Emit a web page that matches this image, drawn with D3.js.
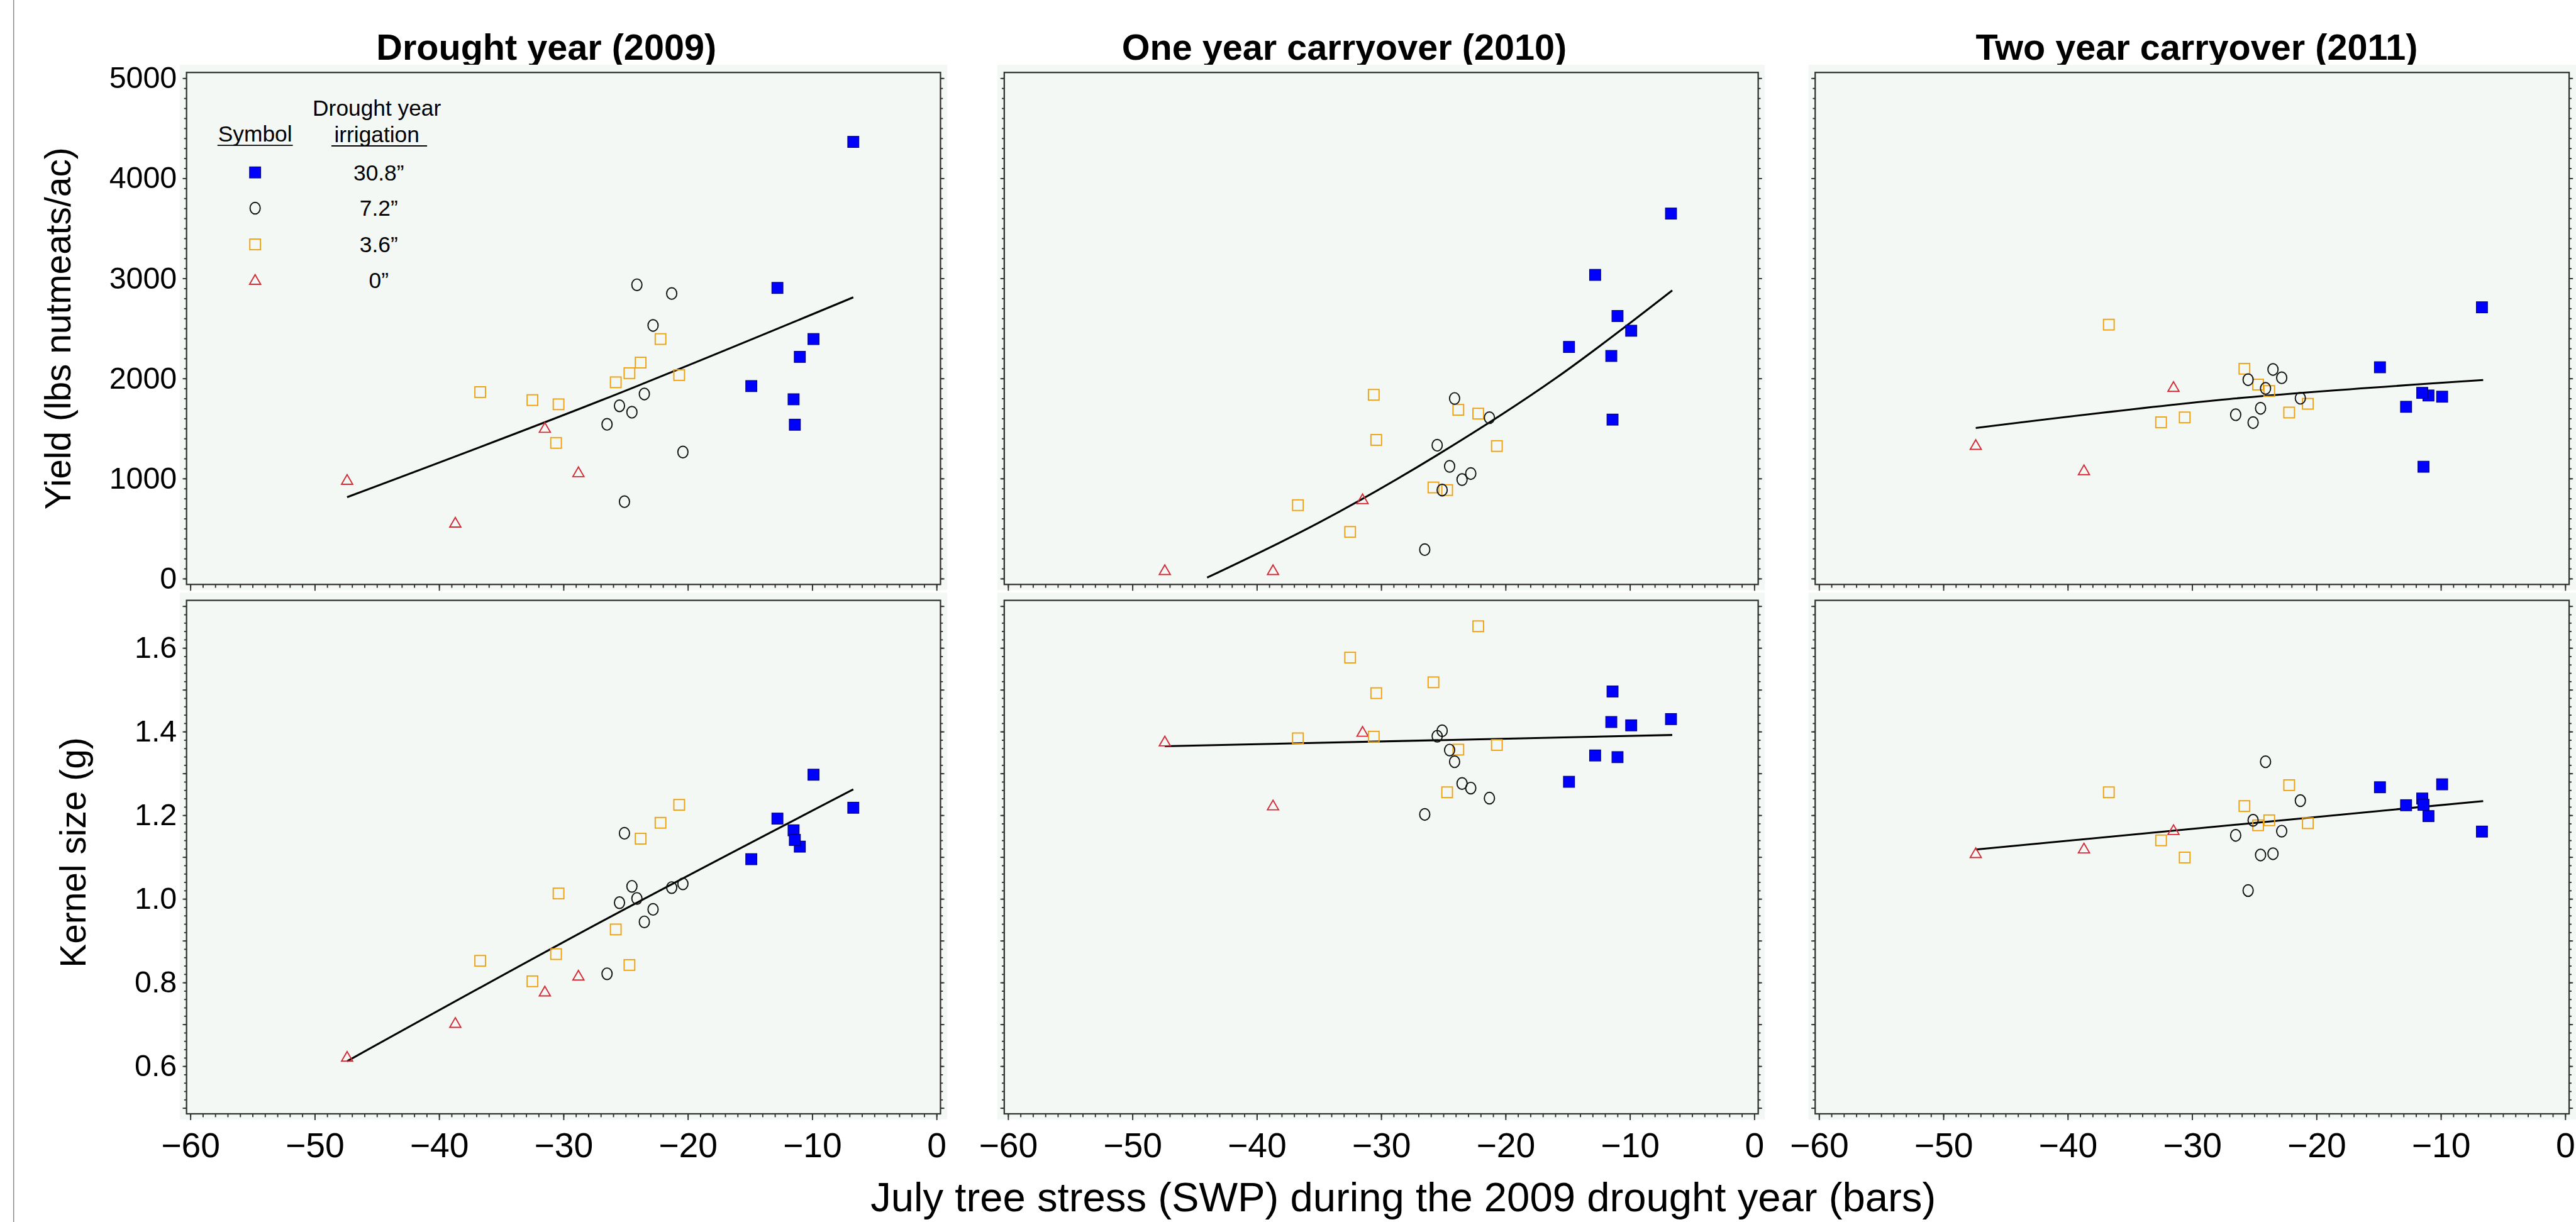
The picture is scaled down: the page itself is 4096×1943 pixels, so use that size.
<!DOCTYPE html>
<html>
<head>
<meta charset="utf-8">
<script src="https://cdn.jsdelivr.net/npm/d3@7"></script>
<style>
  html, body { margin: 0; padding: 0; background: #ffffff; }
  svg { display: block; }
</style>
</head>
<body>
<svg id="chart"></svg>
<script>
// ---- data ----
const years = ["2009", "2010", "2011"];
const panelTitles = ["Drought year (2009)", "One year carryover (2010)", "Two year carryover (2011)"];
const legendLabels = ["30.8\u201d", "7.2\u201d", "3.6\u201d", "0\u201d"];

// July SWP (bars) of each tree, by drought-year irrigation group
const xBlue = [-6.7, -12.8, -9.9, -11.0, -14.9, -11.5, -11.4];
const xCircle = [-24.1, -21.3, -22.8, -23.5, -25.5, -24.5, -26.5, -20.4, -25.1];
const xOrange = [-36.7, -32.5, -30.4, -30.6, -25.8, -24.7, -23.8, -22.2, -20.7];
const xTri = [-47.4, -38.7, -31.5, -28.8];

// yield (lbs nutmeats/ac), one row per year
const blueYield = [
  [4364, 2905, 2394, 2216, 1924, 1792, 1538],
  [3648, 3035, 2477, 2624, 2315, 2225, 1589],
  [2711, 1717, 1818, 1830, 2112, 1856, 1118]
];
const circleYield = [
  [2936, 2849, 2530, 1845, 1727, 1663, 1542, 1265, 769],
  [1800, 1608, 1050, 990, 1333, 1122, 290, null, 885],
  [1901, 1803, 2007, 2090, 1988, 1702, 1638, null, 1559]
];
const orangeYield = [
  [1864, 1784, 1742, 1356, 1962, 2053, 2159, 2394, 2034],
  [734, 467, 1386, 1837, 911, 885, 1687, 1649, 1325],
  [2538, 1562, null, 1611, 2097, 1939, 1875, 1660, 1747]
];
const triYield = [
  [985, 557, 1504, 1061],
  [83, 83, 791, null],
  [1333, 1081, 1913, null]
];

// kernel size (g), one row per year
const blueKernel = [
  [1.218, 1.192, 1.297, 1.125, 1.095, 1.164, 1.141],
  [1.430, 1.343, 1.415, 1.339, 1.280, 1.423, 1.496],
  [1.161, 1.224, 1.274, 1.198, 1.267, 1.240, 1.225]
];
const circleKernel = [
  [1.001, 1.027, 0.975, 0.945, 0.991, 1.030, 0.821, 1.036, 1.157],
  [1.328, 1.241, 1.265, 1.276, 1.389, 1.356, 1.202, null, 1.402],
  [1.328, 1.235, 1.162, 1.108, 1.020, 1.105, 1.152, null, 1.188]
];
const orangeKernel = [
  [0.852, 0.803, 1.013, 0.868, 0.927, 0.842, 1.144, 1.182, 1.225],
  [1.384, 1.577, 1.492, 1.388, 1.518, 1.255, 1.357, 1.652, 1.368],
  [1.255, 1.140, null, 1.099, 1.222, 1.176, 1.188, 1.272, 1.181]
];
const triKernel = [
  [0.622, 0.703, 0.778, 0.816],
  [1.376, 1.223, 1.399, null],
  [1.109, 1.120, 1.164, null]
];

// fitted curves, points
const yieldFit = [
  [[-47.4, 814], [-27, 1780], [-6.7, 2811]],
  [[-44, 10], [-35, 560], [-25.3, 1250], [-16, 2000], [-6.6, 2880]],
  [[-47.4, 1506], [-27, 1795], [-6.6, 1984]]
];
const kernelFit = [
  [[-47.4, 0.612], [-27, 0.945], [-6.7, 1.262]],
  [[-47.4, 1.365], [-6.6, 1.392]],
  [[-47.4, 1.118], [-6.6, 1.234]]
];

// axis ticks
const xLabels = [-60, -50, -40, -30, -20, -10, 0];
const xMinor = d3.range(-60, 1, 1);
const yieldLabels = [0, 1000, 2000, 3000, 4000, 5000];
const yieldMinor = d3.range(0, 5001, 100);
const kernelLabels = [0.6, 0.8, 1.0, 1.2, 1.4, 1.6];
const kernelMajor = [0.5, 0.6, 0.7, 0.8, 0.9, 1.0, 1.1, 1.2, 1.3, 1.4, 1.5, 1.6, 1.7];
const kernelMinor = d3.range(25, 86).map(i => i / 50);

// ---- layout (reference pixel space, scaled by the viewBox) ----
const W = 5333, H = 2530;
const colX = [386, 2079, 3758];
const panelW = 1561;
const rowY = [150, 1243];
const panelH = [1060, 1063];
const titleX = [1131, 2783, 4548];
const FONT = "'Liberation Sans', Arial, Helvetica, sans-serif";
const INK = "#333333";
const PALE = "#f4f8f4";

const svg = d3.select("#chart")
  .attr("width", 4096)
  .attr("height", 1943)
  .attr("viewBox", `0 0 ${W} ${H}`)
  .style("font-family", FONT);

svg.append("rect").attr("width", W).attr("height", H).attr("fill", "#ffffff");

// thin page rule on the left
svg.append("line")
  .attr("x1", 28).attr("x2", 28).attr("y1", 0).attr("y2", H)
  .attr("stroke", "#8a8a8a").attr("stroke-width", 2);

const groupStyle = {
  blue: { fill: "#0000ff", stroke: "#00007a", width: 1.5 },
  circle: { fill: "none", stroke: "#111111", width: 2.5 },
  orange: { fill: "none", stroke: "#eea211", width: 2.5 },
  tri: { fill: "none", stroke: "#d42a36", width: 2.5 }
};
const triPath = d3.symbol(d3.symbolTriangle, 230)();

function drawMark(g, kind, pts) {
  const st = groupStyle[kind];
  let sel;
  if (kind === "blue" || kind === "orange") {
    const s = kind === "blue" ? 23 : 22;
    sel = g.selectAll(null).data(pts).join("rect")
      .attr("x", d => d[0] - s / 2).attr("y", d => d[1] - s / 2)
      .attr("width", s).attr("height", s);
  } else if (kind === "circle") {
    sel = g.selectAll(null).data(pts).join("ellipse")
      .attr("cx", d => d[0]).attr("cy", d => d[1])
      .attr("rx", 10.5).attr("ry", 12);
  } else {
    sel = g.selectAll(null).data(pts).join("path")
      .attr("d", triPath)
      .attr("transform", d => `translate(${d[0]},${d[1] + 2})`);
  }
  sel.attr("fill", st.fill).attr("stroke", st.stroke).attr("stroke-width", st.width);
}

function styleAxis(g, size) {
  g.select(".domain").remove();
  g.selectAll(".tick line").attr("stroke", INK).attr("stroke-width", 2.5);
  g.selectAll(".tick text")
    .attr("fill", "#000000")
    .style("font-size", size + "px")
    .style("font-family", FONT);
}

const seriesX = { blue: xBlue, circle: xCircle, orange: xOrange, tri: xTri };
const yieldSeries = { tri: triYield, orange: orangeYield, circle: circleYield, blue: blueYield };
const kernelSeries = { tri: triKernel, orange: orangeKernel, circle: circleKernel, blue: blueKernel };
const drawOrder = ["tri", "orange", "circle", "blue"];

years.forEach((yr, c) => {
  const x0 = colX[c];
  const x = d3.scaleLinear().domain([-60, 0]).range([x0 + 8, x0 + panelW - 8]);

  // panel title
  svg.append("text")
    .attr("x", titleX[c]).attr("y", 124)
    .attr("text-anchor", "middle")
    .style("font-size", "75px").style("font-weight", "bold")
    .text(panelTitles[c]);

  [0, 1].forEach(r => {
    const y0 = rowY[r], h = panelH[r];
    const isYield = r === 0;
    const y = d3.scaleLinear()
      .domain(isYield ? [0, 5000] : [0.5, 1.7])
      .range([y0 + h - 12, y0 + 12]);
    const panel = svg.append("g").attr("class", `panel-${yr}-${r}`);

    // backdrop and frame
    panel.append("rect")
      .attr("x", x0 - 14).attr("y", y0 - 16)
      .attr("width", panelW + 28).attr("height", h + 28)
      .attr("fill", PALE);
    panel.append("rect")
      .attr("x", x0).attr("y", y0)
      .attr("width", panelW).attr("height", h)
      .attr("fill", PALE).attr("stroke", INK).attr("stroke-width", 3);

    // y ticks on both sides
    const major = isYield ? yieldLabels : kernelMajor;
    const minor = isYield ? yieldMinor : kernelMinor;
    const labels = isYield ? yieldLabels : kernelLabels;
    const fmt = isYield ? d3.format("d") : d3.format(".1f");
    const showY = c === 0;

    panel.append("g").attr("transform", `translate(${x0},0)`)
      .call(d3.axisLeft(y).tickValues(minor).tickSize(5).tickFormat(""))
      .call(g => styleAxis(g, 63));
    panel.append("g").attr("transform", `translate(${x0},0)`)
      .call(d3.axisLeft(y).tickValues(major).tickSize(8).tickPadding(12)
        .tickFormat(v => showY && labels.some(l => Math.abs(l - v) < 1e-6) ? fmt(v) : ""))
      .call(g => styleAxis(g, 63));
    panel.append("g").attr("transform", `translate(${x0 + panelW},0)`)
      .call(d3.axisRight(y).tickValues(minor).tickSize(5).tickFormat(""))
      .call(g => styleAxis(g, 63));
    panel.append("g").attr("transform", `translate(${x0 + panelW},0)`)
      .call(d3.axisRight(y).tickValues(major).tickSize(8).tickFormat(""))
      .call(g => styleAxis(g, 63));

    // x ticks along the bottom
    panel.append("g").attr("transform", `translate(0,${y0 + h})`)
      .call(d3.axisBottom(x).tickValues(xMinor).tickSize(7).tickFormat(""))
      .call(g => styleAxis(g, 72));
    panel.append("g").attr("transform", `translate(0,${y0 + h})`)
      .call(d3.axisBottom(x).tickValues(xLabels).tickSize(13).tickPadding(26)
        .tickFormat(v => r === 1 ? d3.format("d")(v) : ""))
      .call(g => styleAxis(g, 72));

    // fitted curve
    const fit = (isYield ? yieldFit : kernelFit)[c];
    panel.append("path")
      .datum(fit)
      .attr("fill", "none").attr("stroke", "#000000").attr("stroke-width", 4)
      .attr("d", d3.line().x(d => x(d[0])).y(d => y(d[1])).curve(d3.curveMonotoneX));

    // points
    const src = isYield ? yieldSeries : kernelSeries;
    drawOrder.forEach(kind => {
      const xs = seriesX[kind];
      const ys = src[kind][c];
      const pts = xs.map((v, i) => [v, ys[i]])
        .filter(d => d[1] != null)
        .map(d => [x(d[0]), y(d[1])]);
      drawMark(panel.append("g"), kind, pts);
    });
  });
});

// legend inside the first panel
const legend = svg.append("g").attr("class", "legend").style("font-size", "46px");
legend.append("text").attr("x", 780).attr("y", 240).attr("text-anchor", "middle").text("Drought year");
legend.append("text").attr("x", 528).attr("y", 293).attr("text-anchor", "middle").text("Symbol");
legend.append("text").attr("x", 780).attr("y", 294).attr("text-anchor", "middle").text("irrigation");
legend.append("line").attr("x1", 450).attr("x2", 606).attr("y1", 301).attr("y2", 301)
  .attr("stroke", "#000").attr("stroke-width", 2.5);
legend.append("line").attr("x1", 686).attr("x2", 884).attr("y1", 302).attr("y2", 302)
  .attr("stroke", "#000").attr("stroke-width", 2.5);
const legendKinds = ["blue", "circle", "orange", "tri"];
const legendRowY = [357, 431, 506, 580];
legendKinds.forEach((kind, i) => {
  drawMark(legend.append("g"), kind, [[528, legendRowY[i]]]);
  legend.append("text")
    .attr("x", 784).attr("y", legendRowY[i])
    .attr("dy", "0.35em").attr("text-anchor", "middle")
    .text(legendLabels[i]);
});

// axis titles
svg.append("text")
  .attr("transform", "translate(145,680) rotate(-90)")
  .attr("text-anchor", "middle")
  .style("font-size", "74px")
  .text("Yield (lbs nutmeats/ac)");
svg.append("text")
  .attr("transform", "translate(177,1765) rotate(-90)")
  .attr("text-anchor", "middle")
  .style("font-size", "74px")
  .text("Kernel size (g)");
svg.append("text")
  .attr("x", 2905).attr("y", 2508)
  .attr("text-anchor", "middle")
  .style("font-size", "85px")
  .text("July tree stress (SWP) during the 2009 drought year (bars)");
</script>
</body>
</html>
